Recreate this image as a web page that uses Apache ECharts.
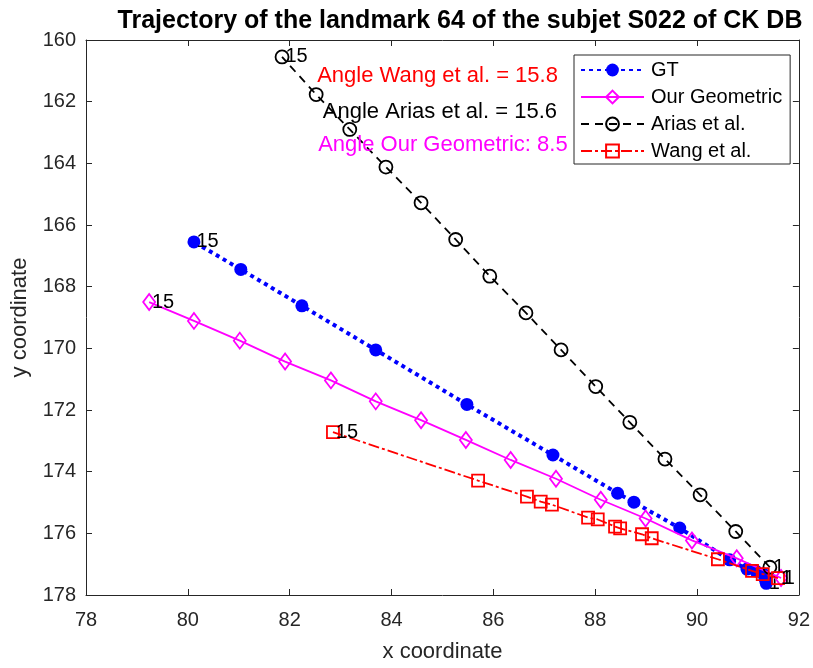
<!DOCTYPE html>
<html>
<head>
<meta charset="utf-8">
<title>Trajectory of landmark 64</title>
<script src="https://cdn.jsdelivr.net/npm/echarts@6/dist/echarts.min.js"></script>
<style>
  html, body { margin: 0; padding: 0; background: #fff; }
  #chart { width: 813px; height: 668px; }
</style>
</head>
<body>
<div id="chart"></div>
<script>
// Frame numbers shown at both ends of each trajectory
const frameFirst = 1;
const frameLast = 15;

// Ground truth trajectory (frame 1 -> 15)
const gtX = [91.36, 91.34, 91.30, 91.15, 90.98, 90.64, 89.66, 88.76, 88.44, 87.17, 85.48, 83.69, 82.24, 81.04, 80.12];
const gtY = [177.62, 177.50, 177.32, 177.22, 177.16, 176.86, 175.83, 174.99, 174.70, 173.46, 171.82, 170.05, 168.62, 167.44, 166.55];

// Our geometric method
const geoX = [91.65, 90.78, 89.90, 88.99, 88.11, 87.23, 86.34, 85.46, 84.58, 83.69, 82.81, 81.91, 81.02, 80.12, 79.24];
const geoY = [177.45, 176.81, 176.23, 175.52, 174.91, 174.23, 173.62, 172.97, 172.33, 171.72, 171.04, 170.43, 169.75, 169.11, 168.50];

// Arias et al.
const ariasX = [91.43, 90.76, 90.06, 89.37, 88.68, 88.01, 87.33, 86.64, 85.93, 85.26, 84.58, 83.89, 83.18, 82.52, 81.85];
const ariasY = [177.10, 175.94, 174.75, 173.59, 172.40, 171.24, 170.05, 168.85, 167.66, 166.47, 165.28, 164.12, 162.90, 161.77, 160.55];

// Wang et al.
const wangX = [91.59, 91.29, 91.08, 90.41, 89.11, 88.92, 88.49, 88.39, 88.05, 87.86, 87.15, 86.93, 86.66, 85.70, 82.85];
const wangY = [177.45, 177.32, 177.22, 176.84, 176.16, 176.03, 175.84, 175.78, 175.55, 175.49, 175.07, 174.97, 174.81, 174.29, 172.72];

// Axis ranges and ticks
const xTicks = [78, 80, 82, 84, 86, 88, 90, 92];
const yTicks = [160, 162, 164, 166, 168, 170, 172, 174, 176, 178];

// Angle annotations: [x, y, text, colour]
const angleNotes = [
  [82.54, 161.16, 'Angle Wang et al. = 15.8', '#ff0000'],
  [82.65, 162.32, 'Angle Arias et al. = 15.6', '#000000'],
  [82.56, 163.41, 'Angle Our Geometric: 8.5', '#ff00ff']
];

const FONT = "'Liberation Sans', Arial, Helvetica, sans-serif";
const AXIS_COLOR = '#262626';

function buildPoints(xs, ys) {
  const n = xs.length;
  return xs.map((x, i) => {
    const isEnd = i === 0 || i === n - 1;
    return {
      value: [x, ys[i]],
      label: {
        show: isEnd,
        formatter: String(i === 0 ? frameFirst : frameLast)
      }
    };
  });
}

const endLabel = {
  position: 'right',
  distance: -4,
  color: '#000',
  fontSize: 20,
  fontFamily: FONT,
  align: 'left',
  verticalAlign: 'middle'
};

const chart = echarts.init(document.getElementById('chart'), null, { renderer: 'canvas' });

const axisCommon = {
  type: 'value',
  splitLine: { show: false },
  axisLine: { show: true, onZero: false, lineStyle: { color: AXIS_COLOR, width: 1 } },
  axisTick: { show: true, inside: true, length: 6, lineStyle: { color: AXIS_COLOR, width: 1 } }
};

chart.setOption({
  animation: false,
  backgroundColor: '#fff',
  title: {
    text: 'Trajectory of the landmark 64 of the subjet S022 of CK DB',
    left: 455,
    textAlign: 'center',
    top: 4,
    textStyle: { fontFamily: FONT, fontSize: 25, fontWeight: 'bold', color: '#000' }
  },
  grid: { left: 86, right: 14, top: 40, bottom: 69, containLabel: false },
  legend: {
    orient: 'vertical',
    left: 574,
    top: 55,
    padding: [5, 8, 3, 6],
    itemWidth: 63,
    itemHeight: 16,
    itemGap: 7,
    backgroundColor: '#fff',
    borderColor: AXIS_COLOR,
    borderWidth: 1,
    borderRadius: 0,
    textStyle: { fontFamily: FONT, fontSize: 20, color: '#000', lineHeight: 20, padding: [0, 0, 0, 2] },
    data: ['GT', 'Our Geometric', 'Arias et al.', 'Wang et al.']
  },
  xAxis: [
    Object.assign({}, axisCommon, {
      position: 'bottom',
      min: xTicks[0], max: xTicks[xTicks.length - 1], interval: 2,
      name: 'x coordinate',
      nameLocation: 'middle',
      nameGap: 46,
      nameTextStyle: { fontFamily: FONT, fontSize: 22, color: AXIS_COLOR },
      axisLabel: { fontFamily: FONT, fontSize: 20, color: AXIS_COLOR, margin: 15 }
    }),
    Object.assign({}, axisCommon, {
      position: 'top',
      min: xTicks[0], max: xTicks[xTicks.length - 1], interval: 2,
      axisLabel: { show: false }
    })
  ],
  yAxis: [
    Object.assign({}, axisCommon, {
      position: 'left',
      inverse: true,
      min: yTicks[0], max: yTicks[yTicks.length - 1], interval: 2,
      name: 'y coordinate',
      nameLocation: 'middle',
      nameGap: 55,
      nameRotate: 90,
      nameTextStyle: { fontFamily: FONT, fontSize: 22, color: AXIS_COLOR },
      axisLabel: { fontFamily: FONT, fontSize: 20, color: AXIS_COLOR, margin: 10 }
    }),
    Object.assign({}, axisCommon, {
      position: 'right',
      inverse: true,
      min: yTicks[0], max: yTicks[yTicks.length - 1], interval: 2,
      axisLabel: { show: false }
    })
  ],
  series: [
    {
      name: 'GT',
      type: 'line',
      xAxisIndex: 0, yAxisIndex: 0,
      data: buildPoints(gtX, gtY),
      symbol: 'circle',
      symbolSize: 13,
      itemStyle: { color: '#0000ff' },
      lineStyle: { color: '#0000ff', width: 4, type: [4, 4], cap: 'butt' },
      label: endLabel,
      z: 2
    },
    {
      name: 'Our Geometric',
      type: 'line',
      xAxisIndex: 0, yAxisIndex: 0,
      data: buildPoints(geoX, geoY),
      symbol: 'diamond',
      symbolSize: [12, 16],
      itemStyle: { color: 'transparent', borderColor: '#ff00ff', borderWidth: 1.8 },
      lineStyle: { color: '#ff00ff', width: 1.8, type: 'solid' },
      label: endLabel,
      z: 3
    },
    {
      name: 'Arias et al.',
      type: 'line',
      xAxisIndex: 0, yAxisIndex: 0,
      data: buildPoints(ariasX, ariasY),
      symbol: 'circle',
      symbolSize: 13,
      itemStyle: { color: 'transparent', borderColor: '#000', borderWidth: 1.8 },
      lineStyle: { color: '#000', width: 1.8, type: [8, 6] },
      label: endLabel,
      z: 4
    },
    {
      name: 'Wang et al.',
      type: 'line',
      xAxisIndex: 0, yAxisIndex: 0,
      data: buildPoints(wangX, wangY),
      symbol: 'rect',
      symbolSize: 12,
      itemStyle: { color: 'transparent', borderColor: '#ff0000', borderWidth: 1.8 },
      lineStyle: { color: '#ff0000', width: 1.8, type: [11, 3, 3, 3] },
      label: endLabel,
      z: 5
    }
  ]
});

// Angle annotations anchored in data coordinates
chart.setOption({
  graphic: angleNotes.map(([x, y, text, color]) => {
    const p = chart.convertToPixel({ xAxisIndex: 0, yAxisIndex: 0 }, [x, y]);
    return {
      type: 'text',
      x: p[0],
      y: p[1],
      z: 10,
      style: {
        text: text,
        fill: color,
        fontFamily: FONT,
        fontSize: 22,
        textAlign: 'left',
        textVerticalAlign: 'middle',
        verticalAlign: 'middle'
      }
    };
  })
});
</script>
</body>
</html>
